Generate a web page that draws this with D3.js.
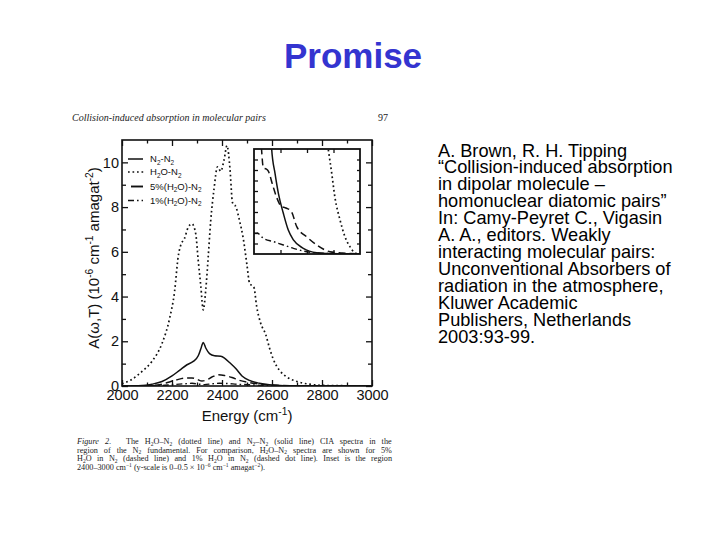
<!DOCTYPE html>
<html><head><meta charset="utf-8">
<script src="https://cdn.jsdelivr.net/npm/d3@7"></script>
<style>body{margin:0;background:#fff}svg{display:block}</style>
</head><body><svg id="c" width="720" height="540"></svg>
<script>
// ---------- data ----------
const seriesNames = ["N2-N2", "H2O-N2", "5%(H2O)-N2", "1%(H2O)-N2"];

// main panel (A in 10^-6 cm^-1 amagat^-2)
const n2n2Energy = [2000,2080,2120,2160,2200,2230,2260,2285,2305,2315,2325,2335,2350,2370,2395,2410,2430,2455,2480,2510,2550,2600,2700,3000];
const n2n2Value  = [0,0.02,0.08,0.2,0.45,0.7,0.95,1.1,1.35,1.65,1.95,1.7,1.45,1.35,1.33,1.25,1.05,0.78,0.45,0.25,0.12,0.05,0.01,0];

const h2oEnergy = [2000,2040,2080,2120,2160,2190,2210,2225,2235,2250,2265,2280,2295,2305,2315,2325,2335,2345,2355,2368,2382,2395,2408,2420,2432,2442,2456,2470,2485,2500,2510,2528,2538,2555,2575,2590,2605,2630,2660,2700,2750,2800,2900,3000];
const h2oValue  = [0.1,0.3,0.65,1.1,1.9,3.0,4.2,5.8,6.3,6.6,7.1,7.25,6.8,5.6,4.5,3.4,4.3,5.8,7.4,8.8,9.8,9.6,10.1,10.75,9.7,8.2,8.0,7.4,6.6,5.4,4.6,4.4,3.6,2.8,2.3,1.7,1.2,0.7,0.4,0.2,0.08,0.03,0.01,0];

const fivePctEnergy = [2000,2100,2150,2190,2220,2250,2280,2300,2320,2340,2360,2385,2410,2440,2470,2510,2560,2620,2700,3000];
const fivePctValue  = [0,0.02,0.06,0.18,0.28,0.35,0.36,0.3,0.22,0.28,0.4,0.5,0.47,0.38,0.25,0.15,0.08,0.03,0.01,0];

const onePctEnergy = [2000,2150,2200,2250,2280,2310,2330,2360,2390,2420,2460,2520,2600,2700,3000];
const onePctValue  = [0,0.02,0.06,0.1,0.12,0.08,0.06,0.1,0.12,0.11,0.08,0.05,0.02,0.01,0];

// inset panel (2400-3000 cm^-1, 0-0.5)
const insetN2n2Energy = [2495,2500,2519,2538,2566,2594,2623,2679,2755,2830,3000];
const insetN2n2Value  = [0.6,0.5,0.384,0.289,0.194,0.114,0.067,0.027,0.006,0.002,0];
const insetH2oEnergy = [2810,2821,2840,2858,2887,2915,2943,2972,3000];
const insetH2oValue  = [0.56,0.495,0.384,0.27,0.162,0.082,0.035,0.005,0];
const insetFiveEnergy = [2438,2443,2453,2468,2481,2505,2528,2557,2572,2585,2613,2642,2698,2755,2830,2900,3000];
const insetFiveValue  = [0.56,0.495,0.41,0.405,0.395,0.33,0.27,0.225,0.222,0.218,0.2,0.13,0.082,0.043,0.011,0.005,0];
const insetOneEnergy = [2400,2406,2420,2434,2453,2510,2566,2623,2698,2780,3000];
const insetOneValue  = [0.1,0.099,0.1,0.09,0.075,0.059,0.043,0.027,0.011,0.004,0];

const xTickLabels = [2000,2200,2400,2600,2800,3000];
const xMinorTicks = [2100,2300,2500,2700,2900];
const yTickLabels = [0,2,4,6,8,10];
const yMinorTicks = [1,3,5,7,9];
const insetXTicks = [2550,2700,2850];
const insetYTicks = [0.05,0.1,0.15,0.2,0.25,0.3,0.35,0.4,0.45];

const citationLines = [
  "A. Brown, R. H. Tipping",
  "\u201CCollision-induced absorption",
  "in dipolar molecule \u2013",
  "homonuclear diatomic pairs\u201D",
  "In: Camy-Peyret C., Vigasin",
  "A. A., editors. Weakly",
  "interacting molecular pairs:",
  "Unconventional Absorbers of",
  "radiation in the atmosphere,",
  "Kluwer Academic",
  "Publishers, Netherlands",
  "2003:93-99."
];

// ---------- drawing ----------
const svg = d3.select("#c");
svg.append("rect").attr("width",720).attr("height",540).attr("fill","#fff");
const SANS = "'Liberation Sans', Arial, sans-serif";
const SERIF = "'Liberation Serif', 'DejaVu Serif', serif";

function rich(sel, parts, fs, subF, supF) {
  subF = subF || 0.3; supF = supF || 0.42;
  let cur = 0;
  parts.forEach(p => {
    const o = typeof p === "string" ? {t:p} : p;
    const target = o.k === "sub" ? subF*fs : o.k === "sup" ? -supF*fs : 0;
    const ts = sel.append("tspan").text(o.t);
    if (o.x !== undefined) ts.attr("x", o.x);
    if (target - cur !== 0) ts.attr("dy", target - cur);
    if (o.k === "sub" || o.k === "sup") ts.attr("font-size", 0.68*fs);
    if (o.k === "i") ts.attr("font-style", "italic");
    cur = target;
  });
}

// title
svg.append("text").attr("x",353).attr("y",68).attr("text-anchor","middle")
  .attr("font-family",SANS).attr("font-weight","bold").attr("font-size",35)
  .attr("fill","#3434d0").text("Promise");

// page header of scanned figure
svg.append("text").attr("x",72).attr("y",121).attr("font-family",SERIF)
  .attr("font-style","italic").attr("font-size",10).attr("fill","#222")
  .text("Collision-induced absorption in molecular pairs");
svg.append("text").attr("x",378).attr("y",121).attr("font-family",SERIF)
  .attr("font-size",10).attr("fill","#222").text("97");

// main scales
const x = d3.scaleLinear().domain([2000,3000]).range([122,372]);
const y = d3.scaleLinear().domain([0,11]).range([386,140]);

svg.append("clipPath").attr("id","mainclip").append("rect")
  .attr("x",122).attr("y",140).attr("width",250).attr("height",246);

const line = (xs, ys, ex, ey) => d3.line().curve(d3.curveMonotoneX)
  .x((d,i)=>ex(xs[i])).y((d,i)=>ey(ys[i]))(xs);

const styles = [
  {w:1.5, dash:null},
  {w:1.7, dash:"1.7,2.8"},
  {w:1.5, dash:"7,4"},
  {w:1.4, dash:"6,3,1.6,3"}
];
const mainData = [[n2n2Energy,n2n2Value],[h2oEnergy,h2oValue],[fivePctEnergy,fivePctValue],[onePctEnergy,onePctValue]];
const gCurves = svg.append("g").attr("clip-path","url(#mainclip)");
mainData.forEach((d,i)=>{
  gCurves.append("path").attr("d", line(d[0],d[1],x,y)).attr("fill","none")
    .attr("stroke","#111").attr("stroke-width",styles[i].w)
    .attr("stroke-dasharray",styles[i].dash);
});

// axes (ticks inward on all sides)
function styleAxis(g){ g.select(".domain").remove(); g.selectAll("line").attr("stroke","#111").attr("stroke-width",1.3);
  g.selectAll("text").attr("font-family",SANS).attr("font-size",14.5).attr("fill","#111"); }
svg.append("g").attr("transform","translate(0,386)")
  .call(d3.axisBottom(x).tickValues(xTickLabels).tickSize(-6).tickPadding(4).tickFormat(d3.format("d"))).call(styleAxis);
svg.append("g").attr("transform","translate(0,386)")
  .call(d3.axisBottom(x).tickValues(xMinorTicks).tickSize(-3.5).tickFormat("")).call(styleAxis);
svg.append("g").attr("transform","translate(0,140)")
  .call(d3.axisTop(x).tickValues(xTickLabels).tickSize(-6).tickFormat("")).call(styleAxis);
svg.append("g").attr("transform","translate(0,140)")
  .call(d3.axisTop(x).tickValues(xMinorTicks).tickSize(-3.5).tickFormat("")).call(styleAxis);
svg.append("g").attr("transform","translate(122,0)")
  .call(d3.axisLeft(y).tickValues(yTickLabels).tickSize(-6).tickPadding(3).tickFormat(d3.format("d"))).call(styleAxis);
svg.append("g").attr("transform","translate(122,0)")
  .call(d3.axisLeft(y).tickValues(yMinorTicks).tickSize(-4).tickFormat("")).call(styleAxis);
svg.append("g").attr("transform","translate(372,0)")
  .call(d3.axisRight(y).tickValues(yTickLabels).tickSize(-6).tickFormat("")).call(styleAxis);
svg.append("g").attr("transform","translate(372,0)")
  .call(d3.axisRight(y).tickValues(yMinorTicks).tickSize(-4).tickFormat("")).call(styleAxis);

svg.append("rect").attr("x",122).attr("y",140).attr("width",250).attr("height",246)
  .attr("fill","none").attr("stroke","#111").attr("stroke-width",1.6);

// axis titles
const yl = svg.append("text").attr("transform","translate(99,258) rotate(-90)")
  .attr("text-anchor","middle").attr("font-family",SANS).attr("font-size",15).attr("fill","#111");
rich(yl, ["A(\u03C9,T) (10",{t:"-6",k:"sup"}," cm",{t:"-1",k:"sup"}," amagat",{t:"-2",k:"sup"},")"], 15);
const xl = svg.append("text").attr("x",247).attr("y",421).attr("text-anchor","middle")
  .attr("font-family",SANS).attr("font-size",15).attr("fill","#111");
rich(xl, ["Energy (cm",{t:"-1",k:"sup"},")"], 15);

// legend
const legendParts = [
  ["N",{t:"2",k:"sub"},"-N",{t:"2",k:"sub"}],
  ["H",{t:"2",k:"sub"},"O-N",{t:"2",k:"sub"}],
  ["5%(H",{t:"2",k:"sub"},"O)-N",{t:"2",k:"sub"}],
  ["1%(H",{t:"2",k:"sub"},"O)-N",{t:"2",k:"sub"}]
];
const legY = [159, 172, 186.5, 200.5];
const legX = [[128,143],[128,145],[131,143],[128,143]];
seriesNames.forEach((n,i)=>{
  svg.append("line").attr("x1",legX[i][0]).attr("x2",legX[i][1]).attr("y1",legY[i]).attr("y2",legY[i])
    .attr("stroke","#111").attr("stroke-width",i===2?1.9:styles[i].w)
    .attr("stroke-dasharray", i===2 ? null : styles[i].dash);
  const t = svg.append("text").attr("x",150).attr("y",legY[i]+3).attr("font-family",SANS)
    .attr("font-size",9.5).attr("fill","#111");
  rich(t, legendParts[i], 9.5);
});

// inset
const ix = d3.scaleLinear().domain([2400,3000]).range([254,360]);
const iy = d3.scaleLinear().domain([0,0.5]).range([254,149]);
svg.append("rect").attr("x",254).attr("y",149).attr("width",106).attr("height",105).attr("fill","#fff");
svg.append("clipPath").attr("id","insetclip").append("rect")
  .attr("x",254).attr("y",149).attr("width",106).attr("height",105);
const insetData = [[insetN2n2Energy,insetN2n2Value],[insetH2oEnergy,insetH2oValue],[insetFiveEnergy,insetFiveValue],[insetOneEnergy,insetOneValue]];
const gi = svg.append("g").attr("clip-path","url(#insetclip)");
insetData.forEach((d,i)=>{
  gi.append("path").attr("d", line(d[0],d[1],ix,iy)).attr("fill","none")
    .attr("stroke","#111").attr("stroke-width",styles[i].w)
    .attr("stroke-dasharray",styles[i].dash);
});
svg.append("g").attr("transform","translate(254,0)")
  .call(d3.axisLeft(iy).tickValues(insetYTicks).tickSize(-4).tickFormat("")).call(styleAxis);
svg.append("g").attr("transform","translate(360,0)")
  .call(d3.axisRight(iy).tickValues(insetYTicks).tickSize(-3).tickFormat("")).call(styleAxis);
svg.append("g").attr("transform","translate(0,149)")
  .call(d3.axisTop(ix).tickValues(insetXTicks).tickSize(-4).tickFormat("")).call(styleAxis);
svg.append("g").attr("transform","translate(0,254)")
  .call(d3.axisBottom(ix).tickValues(insetXTicks).tickSize(-4).tickFormat("")).call(styleAxis);
svg.append("rect").attr("x",254).attr("y",149).attr("width",106).attr("height",105)
  .attr("fill","none").attr("stroke","#111").attr("stroke-width",1.8);

// caption
const captionLines = [
  [{t:"Figure 2.",k:"i"},{t:"The H",x:126},{t:"2",k:"sub"},"O\u2013N",{t:"2",k:"sub"}," (dotted line) and N",{t:"2",k:"sub"},"\u2013N",{t:"2",k:"sub"}," (solid line) CIA spectra in the"],
  ["region of the N",{t:"2",k:"sub"}," fundamental. For comparison, H",{t:"2",k:"sub"},"O\u2013N",{t:"2",k:"sub"}," spectra are shown for 5%"],
  ["H",{t:"2",k:"sub"},"O in N",{t:"2",k:"sub"}," (dashed line) and 1% H",{t:"2",k:"sub"},"O in N",{t:"2",k:"sub"}," (dashed dot line). Inset is the region"],
  ["2400\u20133000 cm",{t:"\u22121",k:"sup"}," (y-scale is 0\u20130.5 \u00D7 10",{t:"\u22126",k:"sup"}," cm",{t:"\u22121",k:"sup"}," amagat",{t:"\u22122",k:"sup"},")."]
];
const capY = [444, 452.5, 461, 469.5];
captionLines.forEach((parts,i)=>{
  const t = svg.append("text").attr("x",77).attr("y",capY[i]).attr("font-family",SERIF)
    .attr("font-size",8.2).attr("fill","#222");
  rich(t, parts, 8.2, 0.2, 0.35);
  if (i < 3) {
    const bb = t.node().getBBox();
    const txt = parts.slice(i===0?1:0).map(p=>typeof p==="string"?p:p.t).join("");
    const spaces = txt.split(" ").length - 1;
    const extra = (392 - (bb.x + bb.width)) / spaces;
    t.attr("word-spacing", extra);
  }
});

// citation text
svg.append("g").selectAll("text").data(citationLines).join("text")
  .attr("x",438).attr("y",(d,i)=>156.5 + i*16.98)
  .attr("font-family",SANS).attr("font-size",18.2).attr("fill","#000")
  .text(d=>d);
</script>
</body></html>
